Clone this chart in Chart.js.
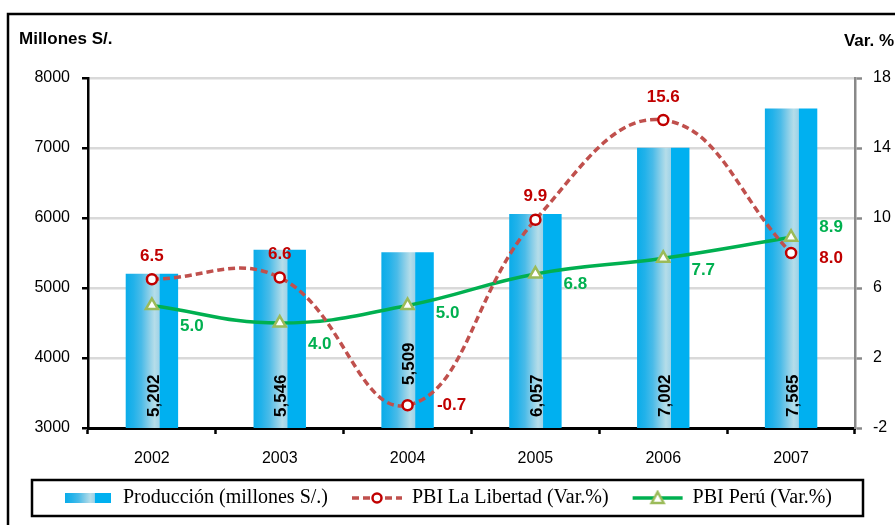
<!DOCTYPE html>
<html>
<head>
<meta charset="utf-8">
<script src="https://cdn.jsdelivr.net/npm/chart.js@4.4.1/dist/chart.umd.min.js"></script>
<style>
  html, body { margin: 0; padding: 0; background: #fff; overflow: hidden; }
  canvas { display: block; }
</style>
</head>
<body>
<canvas id="chart" width="895" height="525"></canvas>
<script>
const years = ['2002', '2003', '2004', '2005', '2006', '2007'];
const produccion = [5202, 5546, 5509, 6057, 7002, 7565];
const pbiLibertad = [6.5, 6.6, -0.7, 9.9, 15.6, 8.0];
const pbiPeru = [5.0, 4.0, 5.0, 6.8, 7.7, 8.9];

const seriesNames = ['Producción (millones S/.)', 'PBI La Libertad (Var.%)', 'PBI Perú (Var.%)'];

const BLUE = '#00b0f0';
const RED_LINE = '#c0504d';
const RED_TXT = '#c00000';
const GREEN = '#00b050';
const GREEN_MK = '#9bbb59';
const BAR_PCT = 0.41;

// label placement (pixels)
const barLabelLift = [11, 11, 43, 11, 11, 11];
const libertadOffsets = [[0, -23], [0, -23], [44, 0], [0, -23], [0, -23], [40, 5]];
const peruOffsets = [[40, 21], [40, 21], [40, 8], [40, 10], [40, 12], [40, -10]];

function addStops(g) {
  g.addColorStop(0, '#0aace9');
  g.addColorStop(0.15, '#22b2ea');
  g.addColorStop(0.3, '#4abbe8');
  g.addColorStop(0.45, '#8ccfe8');
  g.addColorStop(0.55, '#b5dde9');
  g.addColorStop(0.64, '#9fd3e8');
  g.addColorStop(0.655, BLUE);
  g.addColorStop(1, BLUE);
  return g;
}

function barFill(ctx) {
  const chart = ctx.chart;
  const xs = chart.scales.x;
  if (ctx.type !== 'data' || !xs || !chart.chartArea) return BLUE;
  const cx = xs.getPixelForValue(ctx.dataIndex);
  const w = xs.width / years.length * BAR_PCT;
  return addStops(chart.ctx.createLinearGradient(cx - w / 2, 0, cx + w / 2, 0));
}

// legend swatches
function swatchBar() {
  const c = document.createElement('canvas');
  c.width = 50; c.height = 12;
  const g = c.getContext('2d');
  g.fillStyle = addStops(g.createLinearGradient(2, 0, 48, 0));
  g.fillRect(2, 1, 46, 10);
  return c;
}
function swatchLine(color, dash, marker, mColor) {
  const c = document.createElement('canvas');
  c.width = 52; c.height = 16;
  const g = c.getContext('2d');
  g.strokeStyle = color;
  g.lineWidth = 3.5;
  g.setLineDash(dash);
  g.beginPath(); g.moveTo(1, 8); g.lineTo(51, 8); g.stroke();
  g.setLineDash([]);
  g.fillStyle = '#fff';
  g.strokeStyle = mColor;
  g.lineWidth = 2.5;
  g.beginPath();
  if (marker === 'circle') {
    g.arc(26, 8, 4.5, 0, Math.PI * 2);
  } else {
    g.moveTo(26, 2); g.lineTo(32, 13); g.lineTo(20, 13); g.closePath();
  }
  g.fill(); g.stroke();
  return c;
}

const frameAndText = {
  id: 'frameAndText',
  beforeDraw(chart) {
    const c = chart.ctx;
    c.save();
    c.strokeStyle = '#000';
    c.lineWidth = 2.5;
    c.beginPath();
    c.moveTo(8, chart.height); c.lineTo(8, 14); c.lineTo(chart.width, 14);
    c.stroke();
    c.restore();
  },
  afterDraw(chart) {
    const c = chart.ctx;
    c.save();
    c.fillStyle = '#000';
    c.font = 'bold 17px "Liberation Sans", Arial, sans-serif';
    c.textBaseline = 'alphabetic';
    c.textAlign = 'left';
    c.fillText('Millones S/.', 19, 44);
    c.textAlign = 'right';
    c.fillText('Var. %', 894, 46);
    // legend frame
    const lg = chart.legend;
    const cy = lg.top + 24 + 10;
    c.strokeStyle = '#000';
    c.lineWidth = 2.5;
    c.strokeRect(32, cy - 18, chart.width - 64, 36);
    c.restore();
  }
};

const valueLabels = {
  id: 'valueLabels',
  // bar values go right after the bars so the lines pass over them
  afterDatasetDraw(chart, args) {
    if (args.index !== 0) return;
    const c = chart.ctx;
    const bottom = chart.chartArea.bottom;
    c.save();
    c.font = 'bold 17px "Liberation Sans", Arial, sans-serif';
    c.fillStyle = '#000';
    c.textAlign = 'left';
    c.textBaseline = 'middle';
    args.meta.data.forEach((el, i) => {
      c.save();
      c.translate(el.x + 2, bottom - barLabelLift[i]);
      c.rotate(-Math.PI / 2);
      c.fillText(produccion[i].toLocaleString('en-US'), 0, 0);
      c.restore();
    });
    c.restore();
  },
  afterDatasetsDraw(chart) {
    const c = chart.ctx;
    c.save();
    c.font = 'bold 17px "Liberation Sans", Arial, sans-serif';
    c.textAlign = 'center';
    c.textBaseline = 'middle';
    const lineSets = [[1, pbiLibertad, libertadOffsets, RED_TXT], [2, pbiPeru, peruOffsets, GREEN]];
    lineSets.forEach(([idx, vals, offs, col]) => {
      c.fillStyle = col;
      chart.getDatasetMeta(idx).data.forEach((el, i) => {
        c.fillText(vals[i].toFixed(1), el.x + offs[i][0], el.y + offs[i][1]);
      });
    });
    c.restore();
  }
};

Chart.defaults.font.family = '"Liberation Sans", Arial, sans-serif';
Chart.defaults.color = '#000';

const legendIcons = [swatchBar(), swatchLine(RED_LINE, [7, 4], 'circle', RED_TXT), swatchLine(GREEN, [], 'triangle', GREEN_MK)];

new Chart(document.getElementById('chart'), {
  data: {
    labels: years,
    datasets: [
      {
        type: 'bar',
        label: seriesNames[0],
        data: produccion,
        yAxisID: 'y',
        backgroundColor: barFill,
        borderWidth: 0,
        barPercentage: BAR_PCT,
        categoryPercentage: 1,
        order: 2
      },
      {
        type: 'line',
        label: seriesNames[1],
        data: pbiLibertad,
        yAxisID: 'y1',
        borderColor: RED_LINE,
        borderWidth: 3.5,
        borderDash: [7, 4],
        tension: 0.42,
        pointStyle: 'circle',
        pointRadius: 5,
        pointBorderWidth: 2.5,
        pointBorderColor: RED_TXT,
        pointBackgroundColor: '#fff',
        fill: false,
        order: 0
      },
      {
        type: 'line',
        label: seriesNames[2],
        data: pbiPeru,
        yAxisID: 'y1',
        borderColor: GREEN,
        borderWidth: 3.5,
        tension: 0.42,
        pointStyle: 'triangle',
        pointRadius: 7,
        pointBorderWidth: 2.5,
        pointBorderColor: GREEN_MK,
        pointBackgroundColor: '#fff',
        fill: false,
        order: 1
      }
    ]
  },
  options: {
    responsive: false,
    devicePixelRatio: 1,
    animation: false,
    layout: { padding: { top: 78, left: 0, right: 0, bottom: 7 } },
    plugins: {
      tooltip: { enabled: false },
      legend: {
        position: 'bottom',
        labels: {
          usePointStyle: true,
          pointStyleWidth: 50,
          padding: 24,
          color: '#000',
          font: { family: '"Liberation Serif", "Times New Roman", serif', size: 20 },
          generateLabels: () => seriesNames.map((t, i) => ({
            text: t,
            pointStyle: legendIcons[i],
            datasetIndex: i,
            fillStyle: 'transparent',
            strokeStyle: 'transparent',
            lineWidth: 0
          }))
        }
      }
    },
    scales: {
      x: {
        offset: true,
        grid: { offset: true, drawOnChartArea: false, tickLength: 6, tickColor: '#000', tickWidth: 2.5 },
        border: { color: '#000', width: 3 },
        ticks: { padding: 15, font: { size: 16 }, color: '#000' },
        afterFit: (s) => { s.height = 36; }
      },
      y: {
        position: 'left',
        min: 3000,
        max: 8000,
        ticks: { stepSize: 1000, padding: 12, font: { size: 16 }, color: '#000', callback: (v) => String(v) },
        grid: { color: '#d9d9d9', lineWidth: 2.5, tickLength: 6, tickColor: '#000', tickWidth: 2.5 },
        border: { color: '#000', width: 2.5 },
        afterFit: (s) => { s.width = 88; }
      },
      y1: {
        position: 'right',
        min: -2,
        max: 18,
        ticks: { stepSize: 4, padding: 11, font: { size: 16 }, color: '#000', callback: (v) => String(v) },
        grid: { drawOnChartArea: false, tickLength: 7, tickColor: '#898989', tickWidth: 2.5 },
        border: { color: '#898989', width: 2.5 },
        afterFit: (s) => { s.width = 40; }
      }
    }
  },
  plugins: [frameAndText, valueLabels]
});
</script>
</body>
</html>
